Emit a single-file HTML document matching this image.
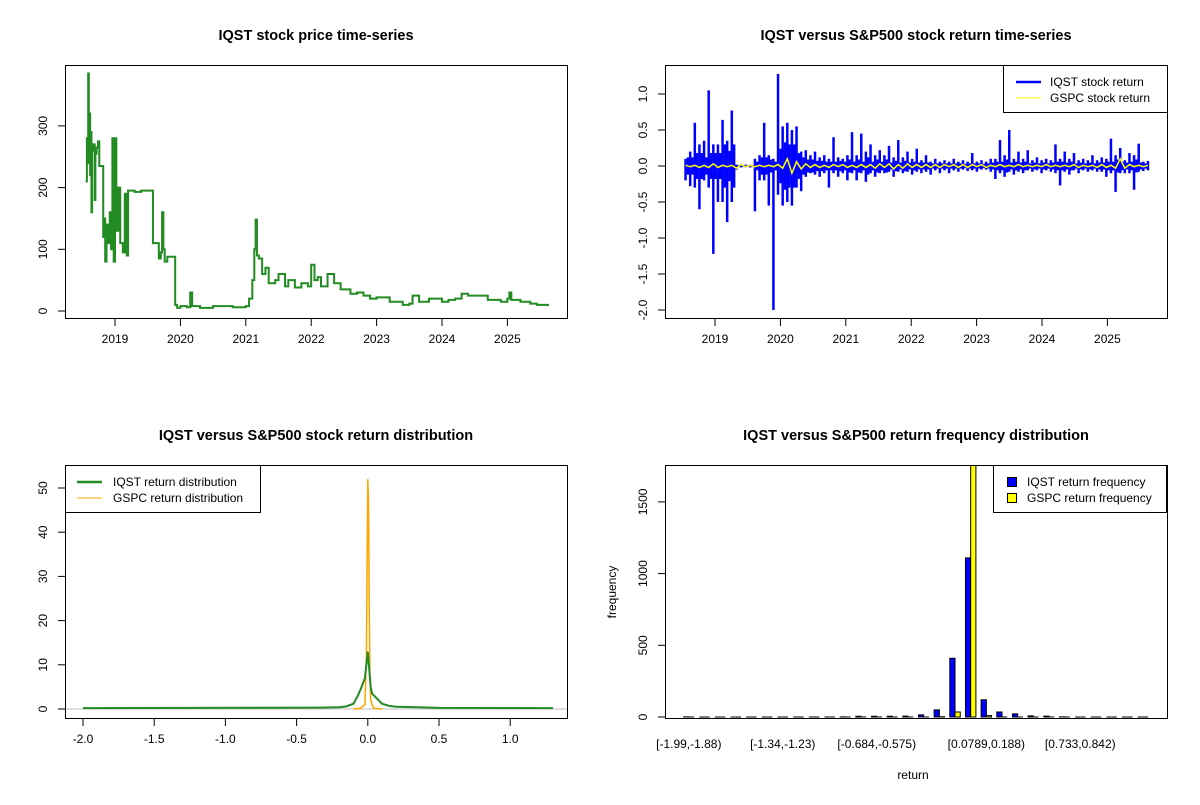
<!DOCTYPE html>
<html><head><meta charset="utf-8"><style>
body{margin:0;background:#fff}
svg text{font-family:"Liberation Sans",Arial,sans-serif;font-size:12px;fill:#000}
.t{font-weight:bold;font-size:14.5px}
</style></head><body>
<svg id="s" width="1200" height="800" xmlns="http://www.w3.org/2000/svg"></svg>
<script>
// ---- data ----
const priceYears=[2018.55,2018.57,2018.58,2018.59,2018.6,2018.61,2018.62,2018.63,2018.64,2018.65,2018.67,2018.69,2018.7,2018.72,2018.74,2018.76,2018.8,2018.82,2018.84,2018.85,2018.87,2018.9,2018.92,2018.94,2018.96,2018.98,2019.0,2019.02,2019.05,2019.08,2019.12,2019.15,2019.18,2019.2,2019.3,2019.4,2019.55,2019.58,2019.65,2019.67,2019.7,2019.72,2019.74,2019.76,2019.8,2019.9,2019.92,2019.95,2020.0,2020.1,2020.15,2020.18,2020.3,2020.5,2020.8,2021.0,2021.05,2021.1,2021.13,2021.15,2021.17,2021.2,2021.25,2021.3,2021.35,2021.45,2021.5,2021.6,2021.65,2021.75,2021.85,2021.95,2022.0,2022.05,2022.1,2022.15,2022.25,2022.35,2022.45,2022.6,2022.7,2022.8,2022.9,2023.0,2023.2,2023.4,2023.5,2023.55,2023.65,2023.8,2024.0,2024.1,2024.2,2024.3,2024.4,2024.5,2024.7,2024.9,2025.0,2025.03,2025.06,2025.2,2025.35,2025.45,2025.62];
const priceValues=[210,280,240,385,300,320,220,290,160,260,270,180,255,265,275,235,235,120,150,80,140,110,160,100,280,80,280,130,200,110,95,190,90,195,193,195,195,110,110,85,95,160,100,80,88,88,10,5,8,6,30,8,5,8,6,8,20,50,100,148,90,85,60,70,45,50,60,40,50,38,45,40,75,50,55,40,60,45,35,28,30,25,20,22,15,10,12,25,15,20,15,18,20,28,25,25,18,15,20,30,18,15,12,10,8];
const retStart=2018.55, retStep=0.0707;
const iqstReturns=[0.1,-0.28,0.6,-0.6,0.35,1.05,-1.22,-0.5,0.64,-0.78,0.77,-0.05,0.03,-0.02,0.02,-0.63,0.15,0.6,-0.55,-2.0,1.28,-0.55,0.6,-0.55,0.55,-0.35,0.22,-0.1,0.2,-0.15,0.15,-0.3,0.4,-0.15,0.1,-0.2,0.47,-0.2,0.45,-0.22,0.3,-0.15,0.22,-0.1,0.28,-0.15,0.36,-0.1,0.2,-0.12,0.24,-0.1,0.15,-0.12,0.1,-0.1,0.08,-0.1,0.1,-0.08,0.08,-0.07,0.18,-0.08,0.08,-0.05,0.1,-0.18,0.36,-0.15,0.5,-0.12,0.2,-0.1,0.22,-0.08,0.12,-0.1,0.1,-0.08,0.3,-0.27,0.2,-0.12,0.18,-0.1,0.1,-0.08,0.15,-0.08,0.12,-0.15,0.38,-0.36,0.25,-0.1,0.18,-0.33,0.31,-0.07,0.07];
const iqstMinorReturns=[-0.2,0.2,-0.3,0.3,-0.2,-0.3,0.3,0.3,-0.5,0.35,-0.5,0.02,-0.02,0.02,-0.02,0.1,-0.2,-0.2,0.15,0.1,-0.4,0.55,-0.5,0.5,-0.3,0.2,-0.15,0.15,-0.12,0.12,-0.1,0.1,-0.1,0.12,-0.1,0.15,-0.1,0.15,-0.1,0.2,-0.1,0.15,-0.1,0.15,-0.08,0.12,-0.08,0.12,-0.08,0.1,-0.08,0.08,-0.08,0.06,-0.06,0.06,-0.06,0.06,-0.06,0.06,-0.05,0.06,-0.06,0.06,-0.05,0.06,-0.08,0.1,-0.1,0.15,-0.08,0.1,-0.08,0.1,-0.06,0.08,-0.06,0.08,-0.06,0.08,-0.1,0.1,-0.08,0.1,-0.06,0.08,-0.06,0.08,-0.06,0.08,-0.08,0.1,-0.1,0.15,-0.1,0.08,-0.1,0.15,-0.08,0.06,-0.06];
const gspcReturns=[0.01,-0.01,0.01,-0.02,0.01,-0.02,0.03,-0.02,0.01,-0.01,0.01,-0.03,0.02,-0.01,0.01,-0.01,0.01,-0.01,0.01,-0.01,0.02,-0.03,0.1,-0.1,0.06,-0.04,0.03,-0.02,0.02,-0.02,0.01,-0.02,0.02,-0.01,0.02,-0.02,0.01,-0.02,0.02,-0.02,0.02,-0.03,0.03,-0.02,0.03,-0.04,0.02,-0.03,0.03,-0.02,0.02,-0.02,0.02,-0.02,0.02,-0.02,0.02,-0.01,0.02,-0.02,0.02,-0.02,0.02,-0.01,0.02,-0.02,0.01,-0.01,0.02,-0.01,0.01,-0.01,0.02,-0.01,0.01,-0.01,0.01,-0.01,0.02,-0.01,0.01,-0.01,0.01,-0.01,0.02,-0.02,0.01,-0.01,0.01,-0.02,0.02,-0.02,0.01,-0.03,0.1,-0.03,0.02,-0.01,0.01,-0.01,0.01];
const iqstDensX=[-2.0,-0.35,-0.2,-0.15,-0.1,-0.07,-0.05,-0.02,-0.01,0,0.01,0.02,0.03,0.06,0.1,0.15,0.2,0.35,0.5,1.3];
const iqstDensY=[0.2,0.3,0.4,0.6,1.2,3,4.5,7,10,13,9,5,3.5,2.5,1.2,0.7,0.5,0.4,0.25,0.2];
const gspcDensX=[-0.1,-0.05,-0.02,-0.01,-0.005,0,0.005,0.01,0.015,0.02,0.04,0.1];
const gspcDensY=[0,0.2,1,12,32,52,47,24,8,2,0.2,0];
const binLabels=["[-1.99,-1.88)","[-1.34,-1.23)","[-0.684,-0.575)","[0.0789,0.188)","[0.733,0.842)"];
const binLabelIdx=[0,6,12,19,25];
const iqstFreq=[1,0,0,0,0,0,0,0,0,0,1,5,5,5,6,15,50,410,1110,120,35,22,8,6,1,0,0,0,0,0];
const gspcFreq=[0,0,0,0,0,0,0,0,0,0,0,0,0,0,0,0,2,35,1800,10,0,0,0,0,0,0,0,0,0,0];

const S=document.getElementById('s');const NS='http://www.w3.org/2000/svg';
function el(t,a,p){const e=document.createElementNS(NS,t);for(const k in a)e.setAttribute(k,a[k]);(p||S).appendChild(e);return e;}
function txt(x,y,s,a,p){const e=el('text',Object.assign({x:x,y:y,'text-anchor':'middle'},a||{}),p);e.textContent=s;return e;}
function lin(x0,x1,d0,d1){return v=>x0+(v-d0)/(d1-d0)*(x1-x0);}

function panel(name,ox,oy,title){
  const g=el('g',{});
  
  
  const t=txt(ox+316,oy+40,title,{class:'t'},g);
  
  
  return g;
}
function frame(g,ox,oy,name){const r=el('rect',{x:ox+65.5,y:oy+65.5,width:502,height:253,fill:'none',stroke:'#000'},g);
  }
function yAxis(g,ox,vals,fy,labs,name){
  const ax=el('g',{},g);
  vals.forEach((v,i)=>{const y=fy(v);el('line',{x1:ox+58,x2:ox+65,y1:y,y2:y,stroke:'#000'},ax);
    const t=el('text',{x:0,y:0,'text-anchor':'middle',transform:`translate(${ox+47},${y}) rotate(-90)`},ax);t.textContent=labs[i];});
}
function xAxis(g,oy,vals,fx,labs,name){
  const ax=el('g',{},g);
  vals.forEach((v,i)=>{const x=fx(v);el('line',{x1:x,x2:x,y1:oy+319,y2:oy+326,stroke:'#000'},ax);
    const t=el('text',{x:x,y:oy+343,'text-anchor':'middle'},ax);t.textContent=labs[i];});
}
const years=[2019,2020,2021,2022,2023,2024,2025];

// ---- panel 1 ----
{const g=panel('price-panel',0,0,'IQST stock price time-series');
 const fx=lin(115,115+65.4,2019,2020), fy=lin(311,249.3,0,100);
 frame(g,0,0,'price');
 yAxis(g,0,[0,100,200,300],fy,['0','100','200','300'],'price-y-axis');
 xAxis(g,0,years,fx,years.map(String),'price-x-axis');
 let pts=[];priceYears.forEach((d,i)=>{if(i>0)pts.push(fx(d)+','+fy(priceValues[i-1]));pts.push(fx(d)+','+fy(priceValues[i]));});
 const p=el('polyline',{points:pts.join(' '),fill:'none',stroke:'#228B22','stroke-width':2},g);
 }

// ---- panel 2 ----
{const g=panel('return-panel',600,0,'IQST versus S&P500 stock return time-series');
 const fx=lin(715,715+65.4,2019,2020), fy=lin(166,130,0,0.5);
 frame(g,600,0,'return');
 yAxis(g,600,[-2,-1.5,-1,-0.5,0,0.5,1],fy,['-2.0','-1.5','-1.0','-0.5','0.0','0.5','1.0'],'return-y-axis');
 xAxis(g,0,years,fx,years.map(String),'return-x-axis');
 const bl=el('g',{stroke:'#0000FF','stroke-width':2.5},g);
 
 iqstReturns.forEach((v,i)=>{const x=fx(retStart+i*retStep);el('line',{x1:x,x2:x,y1:fy(iqstMinorReturns[i]||0),y2:fy(v)},bl);
   const x2=fx(retStart+(i+0.5)*retStep);if(i<iqstReturns.length-1)el('line',{x1:x2,x2:x2,y1:fy(-(iqstMinorReturns[i]*0.6)),y2:fy(iqstMinorReturns[i]*0.6)},bl);});
 const q=el('polyline',{points:gspcReturns.map((v,i)=>fx(retStart+i*retStep)+','+fy(v)).join(' '),fill:'none',stroke:'#FFFF00','stroke-width':1.5},g);
 
 const L=el('g',{},g);
 el('rect',{x:1003.5,y:65.5,width:164,height:47,fill:'#fff',stroke:'#000'},L);
 el('line',{x1:1016,x2:1041,y1:82,y2:82,stroke:'#0000FF','stroke-width':2.5},L);
 el('line',{x1:1016,x2:1041,y1:98,y2:98,stroke:'#FFFF00','stroke-width':1},L);
 txt(1050,86,'IQST stock return',{'text-anchor':'start'},L);
 txt(1050,102,'GSPC stock return',{'text-anchor':'start'},L);}

// ---- panel 3 ----
{const g=panel('density-panel',0,400,'IQST versus S&P500 stock return distribution');
 const fx=lin(83,83+71.2,-2,-1.5), fy=lin(709,664.8,0,10);
 frame(g,0,400,'density');
 yAxis(g,0,[0,10,20,30,40,50],fy,['0','10','20','30','40','50'],'density-y-axis');
 xAxis(g,400,[-2,-1.5,-1,-0.5,0,0.5,1],fx,['-2.0','-1.5','-1.0','-0.5','0.0','0.5','1.0'],'density-x-axis');
 el('line',{x1:66,x2:567,y1:fy(0),y2:fy(0),stroke:'#bebebe'},g);
 const o=el('polyline',{points:gspcDensX.map((d,i)=>fx(d)+','+fy(gspcDensY[i])).join(' '),fill:'none',stroke:'#FFA500','stroke-width':1.5},g);
 
 const p=el('polyline',{points:iqstDensX.map((d,i)=>fx(d)+','+fy(iqstDensY[i])).join(' '),fill:'none',stroke:'#228B22','stroke-width':2},g);
 
 const L=el('g',{},g);
 el('rect',{x:65.5,y:465.5,width:195,height:47,fill:'#fff',stroke:'#000'},L);
 el('line',{x1:77,x2:102,y1:482,y2:482,stroke:'#228B22','stroke-width':2.5},L);
 el('line',{x1:77,x2:102,y1:498,y2:498,stroke:'#FFA500','stroke-width':1},L);
 txt(113,486,'IQST return distribution',{'text-anchor':'start'},L);
 txt(113,502,'GSPC return distribution',{'text-anchor':'start'},L);}

// ---- panel 4 ----
{const g=panel('histogram-panel',600,400,'IQST versus S&P500 return frequency distribution');
 const ux=lin(665,670.22,-2.56,-1.56), fy=lin(717,645.3,0,500);
 yAxis(g,600,[0,500,1000,1500],fy,['0','500','1000','1500'],'freq-y-axis');
 const cp=el('clipPath',{id:'cp4'},g);el('rect',{x:665,y:465,width:502,height:253},cp);
 const bars=el('g',{'clip-path':'url(#cp4)'},g);
 function bar(x0,x1,v,fill,name){
   const y0=fy(0),y1=fy(v);
   const b=el('path',{d:`M${x0},${y0}L${x0},${y1}L${x1},${y1}L${x1},${y0}Z`,fill:fill,stroke:'#000','stroke-width':1},bars);
   
 }
 iqstFreq.forEach((v,i)=>{
   bar(ux(1+3*i),ux(2+3*i),v,'#0000FF','iqst-bar');
   bar(ux(2+3*i),ux(3+3*i),gspcFreq[i],'#FFFF00','gspc-bar');
 });
 frame(g,600,400,'histogram');
 binLabelIdx.forEach((k,j)=>{const t=txt(ux(2+3*k),748,binLabels[j],{},g);
   });
 const xl=txt(913,779,'return',{},g);
 
 const yl=el('text',{x:0,y:0,'text-anchor':'middle',transform:'translate(616,592) rotate(-90)'},g);yl.textContent='frequency';
 
 const L=el('g',{},g);
 el('rect',{x:993.5,y:465.5,width:173,height:47,fill:'#fff',stroke:'#000'},L);
 el('rect',{x:1007.5,y:477.5,width:9,height:9,fill:'#0000FF',stroke:'#000'},L);
 el('rect',{x:1007.5,y:493.5,width:9,height:9,fill:'#FFFF00',stroke:'#000'},L);
 txt(1027,486,'IQST return frequency',{'text-anchor':'start'},L);
 txt(1027,502,'GSPC return frequency',{'text-anchor':'start'},L);}
</script>
</body></html>
